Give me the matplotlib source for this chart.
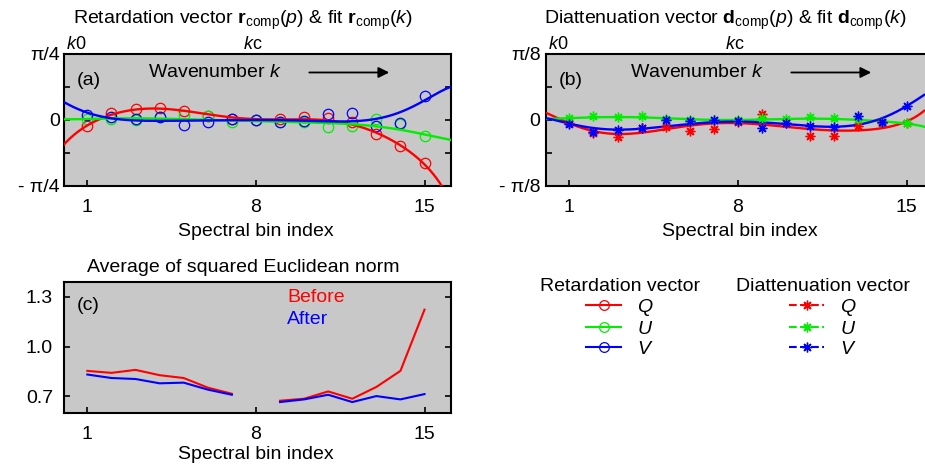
import numpy as np
import matplotlib.pyplot as plt
from matplotlib.lines import Line2D

plt.rcParams['font.family'] = ['Liberation Sans', 'DejaVu Sans']
plt.rcParams['mathtext.fontset'] = 'custom'
plt.rcParams['mathtext.rm'] = 'Liberation Sans'
plt.rcParams['mathtext.it'] = 'Liberation Sans:italic'
plt.rcParams['mathtext.bf'] = 'Liberation Sans:bold'

# ---------------- data ----------------
bins = [1, 2, 3, 4, 5, 6, 7, 8, 9, 10, 11, 12, 13, 14, 15]

# (a) retardation vector components (rad), measured points
ret_Q = [-0.068, 0.079, 0.131, 0.139, 0.107, 0.045, 0.012, 0.000, 0.008, 0.030, 0.025, -0.022, -0.171, -0.305, -0.508]
ret_U = [0.010, 0.012, -0.004, 0.040, 0.058, 0.050, -0.022, 0.000, -0.028, -0.022, -0.087, -0.071, 0.008, -0.052, -0.190]
ret_V = [0.060, 0.034, 0.012, 0.040, -0.060, -0.028, 0.008, -0.004, -0.022, -0.010, 0.071, 0.087, -0.067, -0.040, 0.291]

# (a) fitted curves r_comp(k), read at these positions
fit_x_a = [0, 1, 2, 3, 4, 5, 6, 7, 8, 9, 10, 11, 12, 13, 14, 15, 15.7, 16.1]
fit_ret_Q = [-0.300, -0.068, 0.067, 0.127, 0.131, 0.107, 0.071, 0.035, 0.012, 0.005, 0.000, -0.005, -0.040, -0.159, -0.310, -0.516, -0.785, -0.98]
fit_ret_U = [0.008, 0.012, 0.020, 0.020, 0.016, 0.008, 0.004, -0.004, -0.012, -0.020, -0.028, -0.036, -0.048, -0.075, -0.119, -0.171, -0.215, -0.238]
fit_ret_V = [0.218, 0.087, 0.020, -0.004, -0.012, -0.008, -0.004, 0.000, 0.000, -0.004, -0.008, -0.016, -0.012, 0.012, 0.092, 0.238, 0.340, 0.397]

# (b) diattenuation vector components, measured points
dia_Q = [-0.020, -0.079, -0.099, -0.046, -0.040, -0.065, -0.056, -0.010, 0.036, -0.020, -0.093, -0.093, -0.036, -0.020, -0.020]
dia_U = [0.010, 0.024, 0.016, 0.024, 0.006, 0.000, 0.000, 0.000, 0.010, 0.006, 0.020, 0.010, 0.006, -0.010, -0.020]
dia_V = [-0.026, -0.069, -0.059, -0.050, 0.000, -0.006, 0.000, -0.006, -0.046, -0.020, -0.034, -0.040, 0.026, -0.014, 0.085]

# (b) fitted curves d_comp(k)
fit_x_b = [0, 1, 2, 3, 4, 5, 6, 7, 8, 9, 10, 11, 12, 13, 14, 15, 15.73]
fit_dia_Q = [0.045, -0.020, -0.065, -0.085, -0.075, -0.054, -0.034, -0.020, -0.020, -0.026, -0.040, -0.054, -0.063, -0.063, -0.046, -0.010, 0.055]
fit_dia_U = [0.006, 0.010, 0.018, 0.016, 0.016, 0.010, 0.006, 0.000, 0.000, 0.003, 0.006, 0.008, 0.006, 0.002, -0.010, -0.020, -0.040]
fit_dia_V = [0.012, -0.020, -0.050, -0.057, -0.050, -0.038, -0.026, -0.014, -0.006, -0.014, -0.026, -0.036, -0.040, -0.026, 0.010, 0.083, 0.149]

# (c) average of squared Euclidean norm (NaN = missing bin 8)
norm_before = [0.854, 0.842, 0.860, 0.828, 0.811, 0.753, 0.716, np.nan, 0.674, 0.686, 0.730, 0.686, 0.757, 0.854, 1.223]
norm_after = [0.832, 0.811, 0.805, 0.779, 0.783, 0.741, 0.710, np.nan, 0.666, 0.682, 0.710, 0.666, 0.702, 0.682, 0.714]

comp_labels = ['Q', 'U', 'V']
colors = ['#ff0000', '#00ee00', '#0000ff']
xtick_vals = [1, 8, 15]
smooth_degree = 8

# ---------------- figure ----------------
W, H = 925, 469
fig = plt.figure(figsize=(W / 100, H / 100), dpi=100)
BG = '#c8c8c8'
FS = 14


def px_axes(left, top, right, bottom):
    return fig.add_axes([left / W, 1 - bottom / H, (right - left) / W, (bottom - top) / H])


def style(ax):
    ax.set_facecolor(BG)
    for s in ax.spines.values():
        s.set_linewidth(1.5)
    ax.tick_params(direction='in', length=4, width=1.2, labelsize=FS,
                   right=True, top=False, left=True, bottom=True)
    ax.tick_params(axis='x', pad=9)
    ax.set_xlim(0.03, 16.1)
    ax.set_xticks(xtick_vals)
    ax.set_xticklabels([str(v) for v in xtick_vals])


def smooth_curve(ax, fx, fy, color):
    fx = np.asarray(fx, float)
    p = np.polyfit(fx, fy, smooth_degree)
    xx = np.linspace(fx.min(), fx.max(), 400)
    ax.plot(xx, np.polyval(p, xx), color=color, lw=1.7, zorder=3)


xs = np.array(bins, dtype=float)

axa = px_axes(64, 54, 451, 186)
axb = px_axes(546, 54, 933, 186)
axc = px_axes(64, 282, 451, 413)

for ax in (axa, axb, axc):
    style(ax)

# (a)
for vals, fv, c in zip([ret_Q, ret_U, ret_V], [fit_ret_Q, fit_ret_U, fit_ret_V], colors):
    smooth_curve(axa, fit_x_a, fv, c)
    axa.plot(xs, vals, ls='none', marker='o', mfc='none', mec=c, ms=7.5, mew=0.9, zorder=2)
q4 = np.pi / 4
axa.set_ylim(-q4, q4)
axa.set_yticks([-q4, -q4 / 2, 0, q4 / 2, q4])
axa.set_yticklabels(['- π/4', '', '0', '', 'π/4'])
axa.tick_params(axis='y', pad=3)

# (b)
for vals, fv, c in zip([dia_Q, dia_U, dia_V], [fit_dia_Q, fit_dia_U, fit_dia_V], colors):
    smooth_curve(axb, fit_x_b, fv, c)
    axb.plot(xs, vals, ls='none', marker=(8, 2, 0), mec=c, mfc=c, ms=7, mew=1.0, zorder=4)
q8 = np.pi / 8
axb.set_ylim(-q8, q8)
axb.set_yticks([-q8, -q8 / 2, 0, q8 / 2, q8])
axb.set_yticklabels(['- π/8', '', '0', '', 'π/8'])
axb.tick_params(axis='y', pad=4)

# (c)
axc.plot(xs, norm_before, color='#ff0000', lw=1.5)
axc.plot(xs, norm_after, color='#0000ff', lw=1.5)
axc.set_ylim(0.6, 1.39)
axc.set_yticks([0.7, 1.0, 1.3])
axc.set_yticklabels(['0.7', '1.0', '1.3'])
axc.tick_params(axis='y', pad=8)
axc.text(0.577, 0.885, 'Before', color='#ff0000', fontsize=FS, transform=axc.transAxes, va='center')
axc.text(0.577, 0.71, 'After', color='#0000ff', fontsize=FS, transform=axc.transAxes, va='center')

# panel letters, wavenumber annotation, k0 / kc
for ax, letter, yy in ((axa, '(a)', 0.80), (axb, '(b)', 0.80), (axc, '(c)', 0.82)):
    ax.text(0.034, yy, letter, fontsize=FS, transform=ax.transAxes, va='center', ha='left')
for ax in (axa, axb):
    ax.text(3.5, 0.86, 'Wavenumber $k$', fontsize=FS, transform=ax.get_xaxis_transform(),
            va='center', ha='left')
    ax.annotate('', xy=(13.65, 0.86), xytext=(10.1, 0.86),
                xycoords=ax.get_xaxis_transform(), textcoords=ax.get_xaxis_transform(),
                arrowprops=dict(arrowstyle='-|>', color='black', lw=1.3, mutation_scale=16))
    ax.text(0.1, 1.01, '$k$0', fontsize=13, transform=ax.get_xaxis_transform(), va='bottom', ha='left')
    ax.text(7.85, 1.01, '$k$c', fontsize=13, transform=ax.get_xaxis_transform(), va='bottom', ha='center')

# titles and axis labels
fig.text(243 / W, 1 - 24 / H,
         r'Retardation vector $\mathbf{r}_{\mathrm{comp}}(p)$ & fit $\mathbf{r}_{\mathrm{comp}}(k)$',
         fontsize=FS, ha='center', va='baseline')
fig.text(725 / W, 1 - 24 / H,
         r'Diattenuation vector $\mathbf{d}_{\mathrm{comp}}(p)$ & fit $\mathbf{d}_{\mathrm{comp}}(k)$',
         fontsize=FS, ha='center', va='baseline')
fig.text(243 / W, 1 - 272 / H, 'Average of squared Euclidean norm', fontsize=FS, ha='center', va='baseline')
fig.text(256 / W, 1 - 236 / H, 'Spectral bin index', fontsize=FS, ha='center', va='baseline')
fig.text(740 / W, 1 - 236 / H, 'Spectral bin index', fontsize=FS, ha='center', va='baseline')
fig.text(256 / W, 1 - 459 / H, 'Spectral bin index', fontsize=FS, ha='center', va='baseline')

# legends
ret_handles = [Line2D([], [], color=c, marker='o', mfc='none', mec=c, ms=7, mew=0.9, lw=1.5) for c in colors]
dia_handles = [Line2D([], [], color=c, marker=(8, 2, 0), mfc=c, mec=c, ms=7, mew=1.0, lw=1.5, ls='--') for c in colors]
labels = ['$' + s + '$' for s in comp_labels]
fig.legend(ret_handles, labels, title='Retardation vector', loc='upper center',
           bbox_to_anchor=(620 / W, 1 - 268 / H), frameon=False, fontsize=FS,
           title_fontsize=FS, handlelength=1.8, handletextpad=0.8, labelspacing=0.12,
           borderpad=0)
fig.legend(dia_handles, labels, title='Diattenuation vector', loc='upper center',
           bbox_to_anchor=(823 / W, 1 - 268 / H), frameon=False, fontsize=FS,
           title_fontsize=FS, handlelength=1.8, handletextpad=0.8, labelspacing=0.12,
           borderpad=0)

fig.savefig('out.png', dpi=100)
